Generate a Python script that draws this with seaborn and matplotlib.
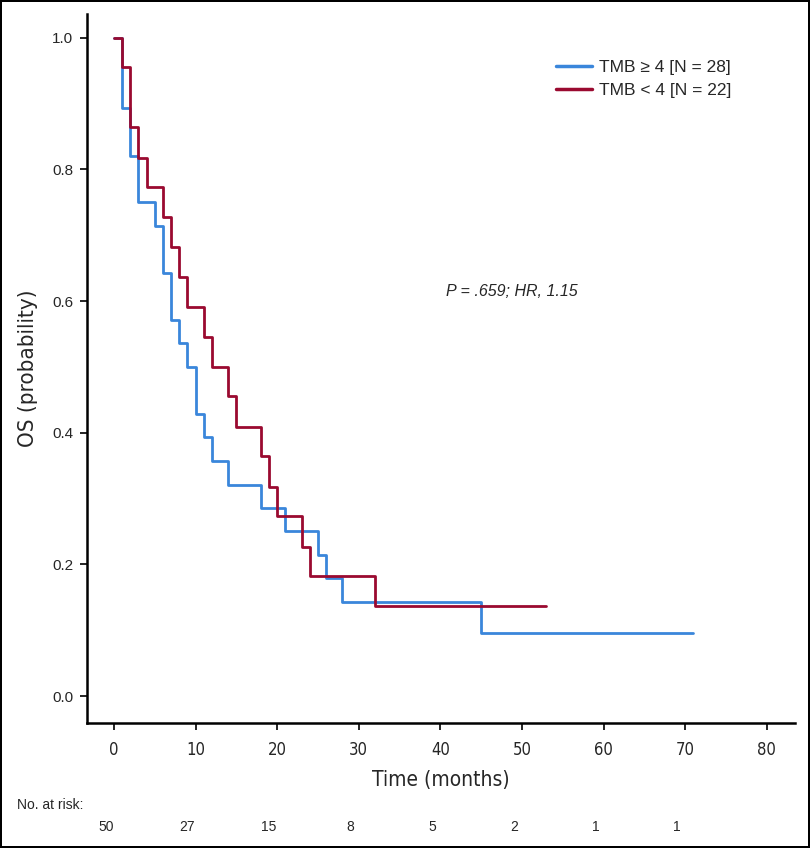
import pandas as pd
import seaborn as sns
from matplotlib import pyplot as plt

# Kaplan-Meier step points (time in months, survival probability)
high_times = [0, 1, 2, 3, 5, 6, 7, 8, 9, 10, 11, 12, 14, 18, 21, 25, 26, 28, 45, 71]
high_surv = [1.0, 0.893, 0.821, 0.75, 0.714, 0.643, 0.571, 0.536, 0.5, 0.429,
             0.393, 0.357, 0.321, 0.286, 0.25, 0.214, 0.179, 0.143, 0.095, 0.095]
low_times = [0, 1, 2, 3, 4, 6, 7, 8, 9, 11, 12, 14, 15, 18, 19, 20, 23, 24, 32, 53]
low_surv = [1.0, 0.955, 0.864, 0.818, 0.773, 0.727, 0.682, 0.636, 0.591, 0.545,
            0.5, 0.455, 0.409, 0.364, 0.318, 0.273, 0.227, 0.182, 0.136, 0.136]

group_labels = ["TMB \u2265 4 [N = 28]", "TMB < 4 [N = 22]"]
group_colors = ["#3a86db", "#9a0a30"]

risk_times = [0, 10, 20, 30, 40, 50, 60, 70]
risk_counts = [50, 27, 15, 8, 5, 2, 1, 1]

x_ticks = [0, 10, 20, 30, 40, 50, 60, 70, 80]
y_ticks = [0.0, 0.2, 0.4, 0.6, 0.8, 1.0]

sns.set_style("ticks")
plt.rcParams["font.family"] = ["Liberation Sans", "DejaVu Sans"]
narrow = dict(family="DejaVu Sans", fontstretch="condensed")

df = pd.concat([
    pd.DataFrame({"time": high_times, "surv": high_surv, "group": group_labels[0]}),
    pd.DataFrame({"time": low_times, "surv": low_surv, "group": group_labels[1]}),
])

fig = plt.figure(figsize=(8.1, 8.48), dpi=100, linewidth=1.5, edgecolor="black")
ax = fig.add_axes([0.1074, 0.1474, 0.8736, 0.8361])

sns.lineplot(data=df, x="time", y="surv", hue="group", palette=group_colors,
             hue_order=group_labels, drawstyle="steps-post", sort=False,
             estimator=None, linewidth=2.0, ax=ax)

ax.set_xlim(-3.3, 83.4)
ax.set_ylim(-0.041, 1.036)
ax.set_xticks(x_ticks)
ax.set_yticks(y_ticks)
ax.set_yticklabels([f"{v:.1f}" for v in y_ticks], fontsize=11)
ax.set_xticklabels([str(v) for v in x_ticks], fontsize=12, **narrow)
ax.tick_params(axis="both", length=5, width=1.2, color="black")
ax.tick_params(axis="x", pad=8)
ax.tick_params(axis="y", pad=5)
for side in ["left", "bottom"]:
    ax.spines[side].set_linewidth(1.8)
    ax.spines[side].set_color("black")
sns.despine(ax=ax)

ax.set_xlabel("Time (months)", fontsize=15, labelpad=8, **narrow)
ax.set_ylabel("OS (probability)", fontsize=16, labelpad=10, **narrow)

leg = ax.legend(loc="upper left", bbox_to_anchor=(556 / 810, 1 - 60 / 848),
                bbox_transform=fig.transFigure, frameon=False, borderpad=0,
                borderaxespad=0, fontsize=12.5, handlelength=2.1,
                handletextpad=0.35, labelspacing=0.42)
for h in leg.get_lines():
    h.set_linewidth(2.5)

ax.text(48.7, 0.615, "P = .659; HR, 1.15", style="italic", fontsize=11.5,
        ha="center", va="center")

fig.text(17 / 810, 1 - 805 / 848, "No. at risk:", fontsize=10, ha="left", va="center")
for t, n in zip(risk_times, risk_counts):
    xf = fig.transFigure.inverted().transform(ax.transData.transform((t - 1, 0)))[0]
    fig.text(xf, 1 - 827 / 848, str(n), fontsize=10, ha="center", va="center")

fig.savefig("out.png", dpi=100, edgecolor=fig.get_edgecolor())
